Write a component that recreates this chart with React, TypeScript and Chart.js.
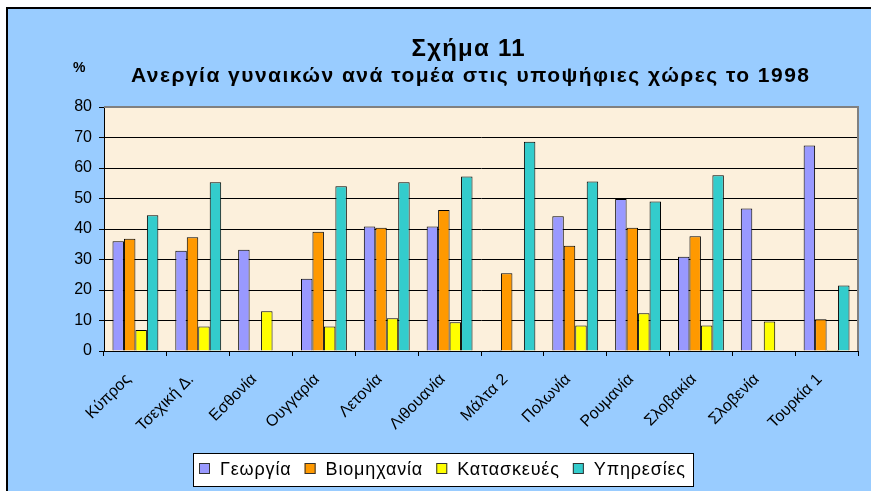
import React, { useEffect, useRef } from "react";
import { Chart, registerables } from "chart.js";

Chart.register(...registerables);

const categories = [
  "Κύπρος",
  "Τσεχική Δ.",
  "Εσθονία",
  "Ουγγαρία",
  "Λετονία",
  "Λιθουανία",
  "Μάλτα 2",
  "Πολωνία",
  "Ρουμανία",
  "Σλοβακία",
  "Σλοβενία",
  "Τουρκία 1",
];
const agriculture = [36.0, 32.9, 33.2, 23.7, 40.8, 40.8, 0.3, 44.2, 49.8, 30.9, 46.7, 67.4];
const industry = [36.8, 37.3, null, 39.1, 40.4, 46.2, 25.5, 34.5, 40.4, 37.6, null, 10.4];
const construction = [6.9, 8.0, 13.0, 8.0, 10.7, 9.4, 0.3, 8.4, 12.4, 8.4, 9.7, 0.3];
const services = [44.5, 55.3, null, 54.0, 55.3, 57.2, 68.6, 55.6, 49.0, 57.6, null, 21.5];
const seriesNames = ["Γεωργία", "Βιομηχανία", "Κατασκευές", "Υπηρεσίες"];
const seriesColors = ["#9999FF", "#FF9900", "#FFFF00", "#33CCCC"];
const yMin = 0;
const yMax = 80;
const yStep = 10;
const titleText = "Σχήμα 11";
const subtitleText = "Ανεργία γυναικών ανά τομέα στις υποψήφιες χώρες το 1998";
const unitText = "%";

const FONT = "Arial, 'Liberation Sans', sans-serif";

function drawFitted(ctx: CanvasRenderingContext2D, text: string, cx: number, y: number, width: number) {
  (ctx as any).letterSpacing = "0px";
  const w0 = ctx.measureText(text).width;
  const n = Array.from(text).length;
  const ls = (width - w0) / Math.max(n - 1, 1);
  (ctx as any).letterSpacing = ls + "px";
  ctx.textAlign = "left";
  ctx.fillText(text, cx - width / 2, y);
  (ctx as any).letterSpacing = "0px";
}

const decorPlugin = {
  id: "decor",
  beforeDraw(chart: any) {
    const { ctx, width, height, chartArea } = chart;
    ctx.save();
    ctx.fillStyle = "#FFFFFF";
    ctx.fillRect(0, 0, width, height);
    ctx.fillStyle = "#99CCFF";
    ctx.fillRect(6, 7, width - 6, height - 7);
    ctx.strokeStyle = "#000000";
    ctx.lineWidth = 2;
    ctx.beginPath();
    ctx.moveTo(6, 8);
    ctx.lineTo(width, 8);
    ctx.moveTo(7, 7);
    ctx.lineTo(7, height);
    ctx.stroke();
    ctx.fillStyle = "#FCF0DC";
    ctx.fillRect(chartArea.left, chartArea.top, chartArea.right - chartArea.left, chartArea.bottom - chartArea.top);
    ctx.restore();
  },
  afterDraw(chart: any) {
    const { ctx, chartArea } = chart;
    ctx.save();
    // plot border (top & right)
    ctx.strokeStyle = "#808080";
    ctx.lineWidth = 2;
    ctx.beginPath();
    ctx.moveTo(chartArea.left, chartArea.top);
    ctx.lineTo(chartArea.right, chartArea.top);
    ctx.lineTo(chartArea.right, chartArea.bottom);
    ctx.stroke();

    // titles
    ctx.fillStyle = "#000000";
    ctx.textBaseline = "alphabetic";
    ctx.font = "bold 24px " + FONT;
    drawFitted(ctx, titleText, 468, 56, 113);
    ctx.font = "bold 21px " + FONT;
    drawFitted(ctx, subtitleText, 470, 82, 678);
    ctx.font = "bold 14px " + FONT;
    ctx.textAlign = "left";
    ctx.fillText(unitText, 73, 72);

    // legend
    const boxL = 193, boxT = 453, boxW = 500, boxH = 33;
    ctx.fillStyle = "#FFFFFF";
    ctx.fillRect(boxL, boxT, boxW, boxH);
    ctx.strokeStyle = "#000000";
    ctx.lineWidth = 1;
    ctx.strokeRect(boxL + 0.5, boxT + 0.5, boxW, boxH);
    ctx.font = "18px " + FONT;
    const datasets = chart.data.datasets;
    const sq = 11, gapSq = 10, gapItem = 14;
    const startX = 199, endX = 685;
    let natural = 0;
    let chars = 0;
    (ctx as any).letterSpacing = "0px";
    datasets.forEach((d: any, i: number) => {
      natural += sq + gapSq + ctx.measureText(d.label).width + (i < datasets.length - 1 ? gapItem : 0);
      chars += Array.from(d.label as string).length - 1;
    });
    const ls = (endX - startX - natural) / chars;
    let x = startX;
    datasets.forEach((d: any) => {
      ctx.fillStyle = d.backgroundColor;
      ctx.fillRect(x, 463, sq, sq);
      ctx.strokeStyle = "#333333";
      ctx.strokeRect(x + 0.5, 463.5, sq - 1, sq - 1);
      x += sq + gapSq;
      ctx.fillStyle = "#000000";
      (ctx as any).letterSpacing = "0px";
      const w = ctx.measureText(d.label).width + ls * (Array.from(d.label as string).length - 1);
      (ctx as any).letterSpacing = ls + "px";
      ctx.textAlign = "left";
      ctx.fillText(d.label, x, 475);
      (ctx as any).letterSpacing = "0px";
      x += w + gapItem;
    });
    ctx.restore();
  },
};

export default function App() {
  const ref = useRef<HTMLCanvasElement | null>(null);
  useEffect(() => {
    if (!ref.current) return;
    const values = [agriculture, industry, construction, services];
    const chart = new Chart(ref.current, {
      type: "bar",
      data: {
        labels: categories,
        datasets: seriesNames.map((name, i) => ({
          label: name,
          data: values[i] as any,
          backgroundColor: seriesColors[i],
          borderColor: "#000000",
          borderWidth: 1,
          categoryPercentage: 0.73,
          barPercentage: 1.0,
        })),
      },
      options: {
        responsive: false,
        animation: false,
        events: [],
        layout: { padding: { top: 107, left: 0, right: 13, bottom: 0 } },
        plugins: {
          legend: { display: false },
          title: { display: false },
          tooltip: { enabled: false },
        },
        scales: {
          x: {
            grid: {
              display: true,
              drawOnChartArea: false,
              drawTicks: true,
              tickLength: 5,
              offset: true,
              color: "#000000",
            },
            border: { display: true, color: "#000000", width: 1 },
            ticks: {
              autoSkip: false,
              minRotation: 45,
              maxRotation: 45,
              color: "#000000",
              padding: 14,
              labelOffset: -7,
              font: { family: FONT, size: 16 },
            },
            afterFit(scale: any) {
              scale.height = 140;
            },
          },
          y: {
            min: yMin,
            max: yMax,
            grid: {
              color: "#000000",
              lineWidth: 1,
              drawTicks: true,
              tickLength: 5,
            },
            border: { display: true, color: "#000000", width: 1 },
            ticks: {
              stepSize: yStep,
              color: "#000000",
              padding: 7,
              font: { family: FONT, size: 16 },
            },
            afterFit(scale: any) {
              scale.width = 104;
            },
          },
        },
      },
      plugins: [decorPlugin],
    });
    return () => chart.destroy();
  }, []);
  return (
    <div style={{ position: "absolute", left: 0, top: 0, width: 871, height: 491 }}>
      <canvas ref={ref} width={871} height={491} style={{ display: "block" }} />
    </div>
  );
}
